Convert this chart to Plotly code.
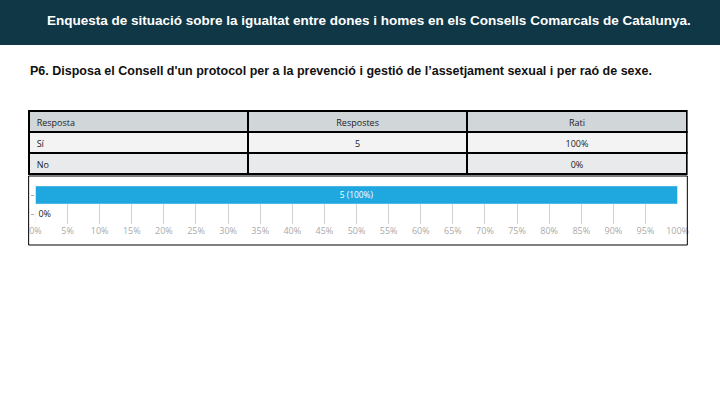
import plotly.graph_objects as go

# dades de la pregunta P6
respostes = ['Sí', 'No']
recompte = [5, 0]
rati = [100, 0]
etiquetes = ['5 (100%)', '0%']
ticks_x = [0, 5, 10, 15, 20, 25, 30, 35, 40, 45, 50, 55, 60, 65, 70, 75, 80, 85, 90, 95, 100]

# la figura cap dins la finestra 720x405 amb el marge de 8px del body
OFF = 8
W, H = 720 - 2 * OFF, 405 - 2 * OFF
def px(x): return (x - OFF) / W
def py(y): return 1 - (y - OFF) / H

fig = go.Figure()

# taula de respostes
fig.add_trace(go.Table(
    domain=dict(x=[px(23), px(698)], y=[py(177), py(111)]),
    columnwidth=[1, 1, 1],
    header=dict(
        values=['Resposta', 'Respostes', 'Rati'],
        align=['left', 'center', 'center'],
        fill_color='#d1d6d9',
        line=dict(color='black', width=2),
        font=dict(family='Open Sans', size=9, color='#222'),
        height=21,
    ),
    cells=dict(
        values=[respostes,
                [str(v) if v else '' for v in recompte],
                [f'{v}%' for v in rati]],
        align=['left', 'center', 'center'],
        fill_color=[['#f3f3f3', '#e8eaeb']] * 3,
        line=dict(color='black', width=2),
        font=dict(family='Open Sans', size=9, color='#222'),
        height=21,
    ),
))

# barres
fig.add_trace(go.Bar(
    y=respostes,
    x=rati,
    orientation='h',
    width=0.95,
    marker_color='#1fa8df',
    text=etiquetes,
    textposition=['inside', 'outside'],
    insidetextanchor='middle',
    textfont=dict(color=['white', '#222'], size=9),
    cliponaxis=False,
    hoverinfo='skip',
))

fig.update_layout(
    width=W, height=H,
    margin=dict(l=0, r=0, t=0, b=0),
    paper_bgcolor='rgba(0,0,0,0)',
    plot_bgcolor='white',
    showlegend=False,
    font=dict(family='Open Sans', color='#222'),
    xaxis=dict(
        domain=[px(30), px(688)],
        range=[0, 100],
        tickvals=ticks_x,
        ticktext=[f'{t}%' for t in ticks_x],
        tickfont=dict(size=9, color='#aaa'),
        showgrid=True, gridcolor='#d0d0d0', gridwidth=1,
        zeroline=False, showline=False,
        fixedrange=True,
    ),
    yaxis=dict(
        domain=[py(223.5), py(185.5)],
        autorange='reversed',
        showticklabels=False,
        ticks='outside', ticklen=3, tickcolor='#aaa',
        showgrid=False, zeroline=False, showline=False,
        fixedrange=True,
    ),
    shapes=[
        dict(type='rect', xref='paper', yref='paper', x0=0, x1=1, y0=py(45), y1=1,
             fillcolor='#103746', line_width=0, layer='below'),
        dict(type='rect', xref='paper', yref='paper', x0=px(23), x1=px(698), y0=py(245), y1=py(176),
             line=dict(color='black', width=1), layer='above'),
    ],
    annotations=[
        dict(x=px(372), y=py(21), xref='paper', yref='paper', showarrow=False, yanchor='middle',
             text='<b>Enquesta de situació sobre la igualtat entre dones i homes en els Consells Comarcals de Catalunya.</b>',
             font=dict(family='Liberation Sans Narrow, Liberation Sans', size=13.5, color='white')),
        dict(x=px(22), y=py(71), xref='paper', yref='paper', showarrow=False, xanchor='left', yanchor='middle',
             text="<b>P6. Disposa el Consell d'un protocol per a la prevenció i gestió de l’assetjament sexual i per raó de sexe.</b>",
             font=dict(family='Liberation Sans Narrow, Liberation Sans', size=12.5, color='#111')),
    ],
)

# la franja fosca de la capçalera també sota el marge del body
fons = "document.body.style.background='linear-gradient(#103746 0px, #103746 45px, white 45px)';"
fig.write_html('out.html', config={'displayModeBar': False}, post_script=fons)
